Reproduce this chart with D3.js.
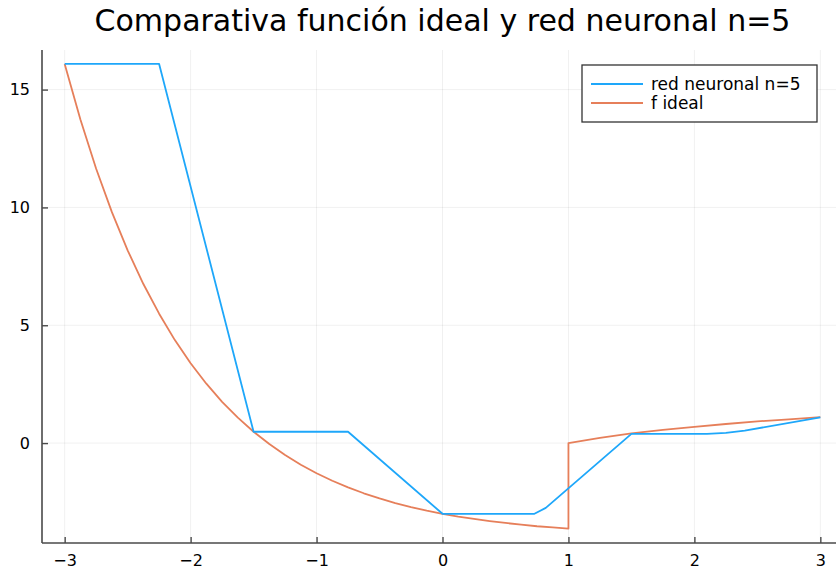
<!DOCTYPE html>
<html lang="es">
<head>
  <meta charset="UTF-8">
  <title>Comparativa función ideal y red neuronal n=5</title>
  <script src="https://d3js.org/d3.v7.min.js"></script>
  <style>
    body { margin: 0; background: #fff; }
    text { font-family: "DejaVu Sans", sans-serif; fill: #000; }
    .grid line { stroke: #000; stroke-opacity: 0.1; stroke-width: 0.6; }
    .serie { fill: none; stroke-width: 1.8; stroke-linejoin: round; }
  </style>
</head>
<body>
  <svg id="chart" width="836" height="572"></svg>
  <script>
    // red neuronal n=5
    const redX = [-3, -2.25, -1.5, -0.75, 0, 0.73, 0.82, 1.5, 2.1, 2.25, 2.4, 3];
    const redY = [16.09, 16.09, 0.48, 0.48, -3.0, -3.0, -2.75, 0.39, 0.39, 0.43, 0.53, 1.09];

    // f ideal
    const idealX = [-3, -2.875, -2.75, -2.625, -2.5, -2.375, -2.25, -2.125, -2, -1.875, -1.75, -1.625,
      -1.5, -1.375, -1.25, -1.125, -1, -0.875, -0.75, -0.625, -0.5, -0.375, -0.25, -0.125,
      0, 0.125, 0.25, 0.375, 0.5, 0.625, 0.75, 0.875, 1, 1,
      1.25, 1.5, 1.75, 2, 2.25, 2.5, 2.75, 3];
    const idealY = [16.09, 13.73, 11.64, 9.80, 8.18, 6.75, 5.49, 4.37, 3.39, 2.52, 1.75, 1.08,
      0.48, -0.04, -0.51, -0.92, -1.28, -1.60, -1.88, -2.13, -2.35, -2.55, -2.72, -2.87,
      -3.0, -3.12, -3.22, -3.31, -3.39, -3.46, -3.53, -3.58, -3.63, 0,
      0.22, 0.41, 0.56, 0.69, 0.81, 0.92, 1.01, 1.10];

    const xTicks = [-3, -2, -1, 0, 1, 2, 3];
    const yTicks = [0, 5, 10, 15];
    const titulo = 'Comparativa función ideal y red neuronal n=5';
    const leyenda = ['red neuronal n=5', 'f ideal'];
    const colores = ['#1ea7fa', '#e67f5a'];

    const svg = d3.select('#chart');
    const mIzq = 42, mDer = 843, mSup = 50, mInf = 543;

    const x = d3.scaleLinear().domain([-3.18, 3.18]).range([mIzq, mDer]);
    const y = d3.scaleLinear().domain([-4.24, 16.68]).range([mInf, mSup]);

    // rejilla
    const grid = svg.append('g').attr('class', 'grid');
    grid.selectAll('.gx').data(xTicks).enter().append('line')
      .attr('x1', d => x(d)).attr('x2', d => x(d))
      .attr('y1', mSup).attr('y2', mInf);
    grid.selectAll('.gy').data(yTicks).enter().append('line')
      .attr('x1', mIzq).attr('x2', mDer)
      .attr('y1', d => y(d)).attr('y2', d => y(d));

    // series
    const linea = d3.line().x(d => x(d[0])).y(d => y(d[1]));
    svg.append('path').attr('class', 'serie')
      .attr('stroke', colores[1])
      .attr('d', linea(d3.zip(idealX, idealY)));
    svg.append('path').attr('class', 'serie')
      .attr('stroke', colores[0])
      .attr('d', linea(d3.zip(redX, redY)));

    // ejes (ticks hacia dentro)
    const ejeX = svg.append('g').attr('transform', `translate(0,${mInf})`)
      .call(d3.axisBottom(x).tickValues(xTicks).tickSize(-6).tickPadding(12)
        .tickFormat(d => d < 0 ? '\u2212' + Math.abs(d) : d));
    const ejeY = svg.append('g').attr('transform', `translate(${mIzq},0)`)
      .call(d3.axisLeft(y).tickValues(yTicks).tickSize(-6).tickPadding(12));
    [ejeX, ejeY].forEach(g => {
      g.select('.domain').attr('stroke', '#4a4a4a').attr('stroke-width', 1.6);
      g.selectAll('.tick line').attr('stroke', '#4a4a4a').attr('stroke-width', 1.4);
      g.selectAll('text').style('font-size', '16px').attr('fill', '#222');
    });
    ejeX.select('.domain').attr('d', `M${mIzq},0H${mDer}`);
    ejeY.select('.domain').attr('d', `M0,${mSup}V${mInf}`);

    // titulo
    svg.append('text')
      .attr('x', 442.5).attr('y', 31)
      .attr('text-anchor', 'middle')
      .style('font-size', '30px')
      .attr('fill', '#111')
      .text(titulo);

    // leyenda
    const ley = svg.append('g');
    ley.append('rect')
      .attr('x', 582).attr('y', 65).attr('width', 235).attr('height', 57)
      .attr('fill', '#fff').attr('stroke', '#333').attr('stroke-width', 1.3);
    leyenda.forEach((t, i) => {
      const yy = 84 + i * 19;
      ley.append('line')
        .attr('x1', 591).attr('x2', 643).attr('y1', yy).attr('y2', yy)
        .attr('stroke', colores[i]).attr('stroke-width', 1.8);
      ley.append('text')
        .attr('x', 651).attr('y', yy).attr('dy', '0.35em')
        .style('font-size', '17px')
        .text(t);
    });
  </script>
</body>
</html>
